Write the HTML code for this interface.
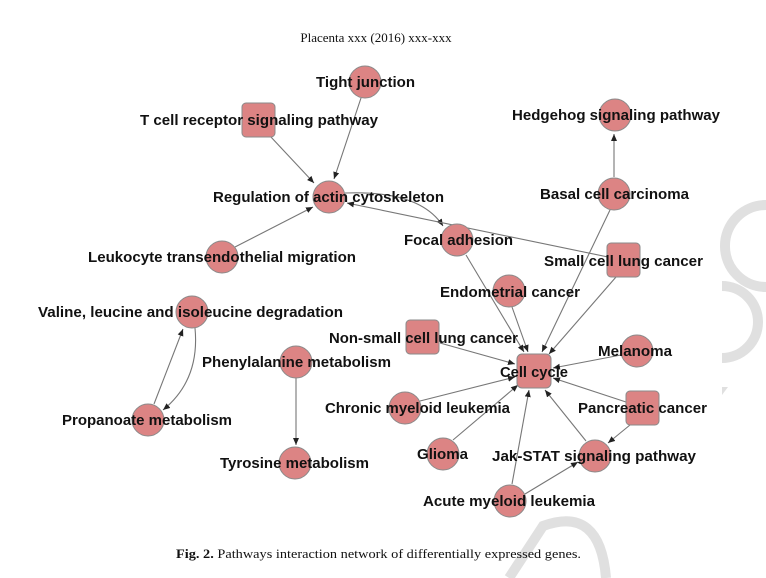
<!DOCTYPE html>
<html><head><meta charset="utf-8"><style>
html,body{margin:0;padding:0;background:#fff;overflow:hidden;}
svg{display:block;}
.l{font-family:"Liberation Sans",Arial,sans-serif;font-weight:bold;font-size:14.5px;fill:#111;}
.s{font-family:"Liberation Serif",serif;font-size:13px;fill:#111;}
</style></head><body>
<svg width="766" height="578" viewBox="0 0 766 578" xmlns="http://www.w3.org/2000/svg">
<defs><marker id="a" markerWidth="8" markerHeight="8" refX="7" refY="3" orient="auto" markerUnits="userSpaceOnUse"><path d="M0,0 L7,3 L0,6 z" fill="#222"/></marker>
<clipPath id="c1"><rect x="722" y="0" width="50" height="578"/></clipPath></defs>
<g fill="none" stroke="#e0e0e0" stroke-width="10">
<path d="M766,205 A40,40 0 1 0 766,287"/>
<circle cx="722" cy="322" r="36" clip-path="url(#c1)"/>
<path d="M509,578 L543,526 Q600,505 606,578"/>
</g>
<path d="M722,387 L728,387 L722,395 z" fill="#e0e0e0"/>
<text class="s" x="376" y="42" text-anchor="middle">Placenta xxx (2016) xxx-xxx</text>
<g stroke="#777" stroke-width="1.1" fill="none" marker-end="url(#a)">
<line x1="270" y1="136" x2="314" y2="183"/>
<line x1="361" y1="98" x2="334" y2="179"/>
<line x1="235" y1="247" x2="313" y2="207"/>
<path d="M345,193 Q420,190 443,226"/>
<line x1="608" y1="257" x2="347" y2="203"/>
<line x1="614" y1="177" x2="614" y2="134"/>
<line x1="610" y1="210" x2="542" y2="352"/>
<line x1="466" y1="255" x2="524" y2="352"/>
<line x1="512" y1="307" x2="528" y2="352"/>
<line x1="616" y1="277" x2="549" y2="354"/>
<line x1="440" y1="343" x2="515" y2="364"/>
<line x1="621" y1="355" x2="553" y2="368"/>
<line x1="420" y1="401" x2="515" y2="377"/>
<line x1="453" y1="440" x2="518" y2="385"/>
<line x1="512" y1="484" x2="529" y2="390"/>
<line x1="586" y1="441" x2="545" y2="390"/>
<line x1="626" y1="402" x2="553" y2="378"/>
<line x1="630" y1="425" x2="608" y2="443"/>
<line x1="525" y1="494" x2="578" y2="462"/>
<line x1="296" y1="378" x2="296" y2="445"/>
<line x1="154" y1="404" x2="183" y2="329"/>
<path d="M195,328 Q200,380 163,410"/>
</g>
<g fill="#dc8484" stroke="#8a8a8a" stroke-width="1">
<circle cx="365" cy="82" r="16"/>
<rect x="242" y="103" width="33" height="34" rx="4"/>
<circle cx="329" cy="197" r="16"/>
<circle cx="615" cy="115" r="16"/>
<circle cx="614" cy="194" r="16"/>
<circle cx="457" cy="240" r="16"/>
<rect x="607" y="243" width="33" height="34" rx="4"/>
<circle cx="222" cy="257" r="16"/>
<circle cx="509" cy="291" r="16"/>
<circle cx="192" cy="312" r="16"/>
<rect x="406" y="320" width="33" height="34" rx="4"/>
<circle cx="637" cy="351" r="16"/>
<circle cx="296" cy="362" r="16"/>
<rect x="517" y="354" width="34" height="34" rx="5"/>
<circle cx="148" cy="420" r="16"/>
<circle cx="405" cy="408" r="16"/>
<rect x="626" y="391" width="33" height="34" rx="4"/>
<circle cx="443" cy="454" r="16"/>
<circle cx="595" cy="456" r="16"/>
<circle cx="295" cy="463" r="16"/>
<circle cx="510" cy="501" r="16"/>
</g>
<g class="l">
<text x="316" y="87" textLength="99" lengthAdjust="spacingAndGlyphs">Tight junction</text>
<text x="140" y="125" textLength="238" lengthAdjust="spacingAndGlyphs">T cell receptor signaling pathway</text>
<text x="213" y="202" textLength="231" lengthAdjust="spacingAndGlyphs">Regulation of actin cytoskeleton</text>
<text x="512" y="120" textLength="208" lengthAdjust="spacingAndGlyphs">Hedgehog signaling pathway</text>
<text x="540" y="199" textLength="149" lengthAdjust="spacingAndGlyphs">Basal cell carcinoma</text>
<text x="404" y="245" textLength="109" lengthAdjust="spacingAndGlyphs">Focal adhesion</text>
<text x="544" y="266" textLength="159" lengthAdjust="spacingAndGlyphs">Small cell lung cancer</text>
<text x="88" y="262" textLength="268" lengthAdjust="spacingAndGlyphs">Leukocyte transendothelial migration</text>
<text x="440" y="297" textLength="140" lengthAdjust="spacingAndGlyphs">Endometrial cancer</text>
<text x="38" y="317" textLength="305" lengthAdjust="spacingAndGlyphs">Valine, leucine and isoleucine degradation</text>
<text x="329" y="343" textLength="189" lengthAdjust="spacingAndGlyphs">Non-small cell lung cancer</text>
<text x="598" y="356" textLength="74" lengthAdjust="spacingAndGlyphs">Melanoma</text>
<text x="202" y="367" textLength="189" lengthAdjust="spacingAndGlyphs">Phenylalanine metabolism</text>
<text x="500" y="377" textLength="68" lengthAdjust="spacingAndGlyphs">Cell cycle</text>
<text x="62" y="425" textLength="170" lengthAdjust="spacingAndGlyphs">Propanoate metabolism</text>
<text x="325" y="413" textLength="185" lengthAdjust="spacingAndGlyphs">Chronic myeloid leukemia</text>
<text x="578" y="413" textLength="129" lengthAdjust="spacingAndGlyphs">Pancreatic cancer</text>
<text x="417" y="459" textLength="51" lengthAdjust="spacingAndGlyphs">Glioma</text>
<text x="492" y="461" textLength="204" lengthAdjust="spacingAndGlyphs">Jak-STAT signaling pathway</text>
<text x="220" y="468" textLength="149" lengthAdjust="spacingAndGlyphs">Tyrosine metabolism</text>
<text x="423" y="506" textLength="172" lengthAdjust="spacingAndGlyphs">Acute myeloid leukemia</text>
</g>
<text class="s" x="176" y="558" textLength="405" lengthAdjust="spacingAndGlyphs"><tspan font-weight="bold">Fig. 2.</tspan> Pathways interaction network of differentially expressed genes.</text>
</svg>
</body></html>
